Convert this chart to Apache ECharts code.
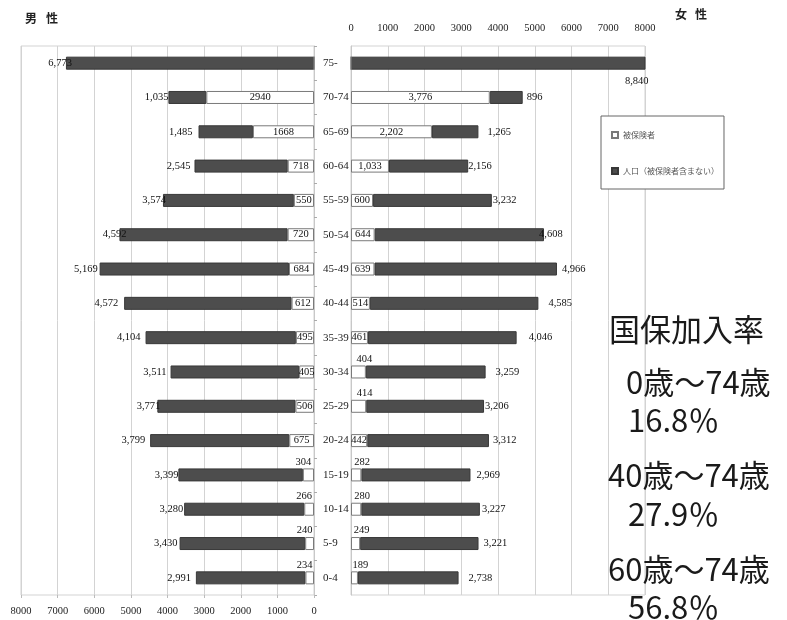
<!DOCTYPE html>
<html>
<head>
<meta charset="utf-8">
<style>
  html, body { margin: 0; padding: 0; background: #fff; }
  #chart { width: 787px; height: 620px; }
</style>
<script src="https://cdn.jsdelivr.net/npm/echarts@6/dist/echarts.min.js"></script>
</head>
<body>
<div id="chart"></div>
<script>
// Age groups, oldest at the top
const categories = ['75-', '70-74', '65-69', '60-64', '55-59', '50-54', '45-49', '40-44',
                    '35-39', '30-34', '25-29', '20-24', '15-19', '10-14', '5-9', '0-4'];

// 男性: 被保険者 / 人口（被保険者含まない）
const maleInsured = [0, 2940, 1668, 718, 550, 720, 684, 612, 495, 405, 506, 675, 304, 266, 240, 234];
const maleOther   = [6773, 1035, 1485, 2545, 3574, 4592, 5169, 4572, 4104, 3511, 3771, 3799, 3399, 3280, 3430, 2991];

// 女性: 被保険者 / 人口（被保険者含まない）
const femaleInsured = [0, 3776, 2202, 1033, 600, 644, 639, 514, 461, 404, 414, 442, 282, 280, 249, 189];
const femaleOther   = [8840, 896, 1265, 2156, 3232, 4608, 4966, 4585, 4046, 3259, 3206, 3312, 2969, 3227, 3221, 2738];

// Side notes
const noteTitle = '国保加入率';
const noteRanges = ['0歳～74歳', '40歳～74歳', '60歳～74歳'];
const noteRates  = ['16.8％', '27.9％', '56.8％'];

const seriesInsured = '被保険者';
const seriesOther = '人口（被保険者含まない）';

// label nudges (px) between bar end and outer value label
const maleGap   = [-6, 0, 6, 4, -3, -7, 2, 6, 5, 4, -3, 5, 0, 1, 2, 5];
const femaleGap = [0, 4, 9, 0, 1, -5, 5, 10, 12, 10, 1, 4, 6, 2, 5, 10];

const numFont = "'Liberation Serif', 'DejaVu Serif', serif";
const jpFont = "'Noto Sans CJK JP', 'Noto Sans', sans-serif";
const gridColor = '#d3d3d3';
const darkFill = '#4d4d4d';
const darkEdge = '#383838';

const fmt = v => v.toLocaleString('en-US');

const baseLabel = { fontFamily: numFont, fontSize: 10.5, color: '#111' };

function insuredItems(values, side) {
  return values.map(v => {
    if (!v) return { value: v, label: { show: false } };
    const above = side === 'male' ? v < 400 : v < 430;
    const text = side === 'male' ? String(v) : fmt(v);
    return {
      value: v,
      label: above
        ? { show: true, position: 'top', distance: 1, offset: [side === 'male' ? -5 : 6, 0], formatter: text }
        : { show: true, position: 'inside', formatter: text }
    };
  });
}

function otherItems(values, side, gaps) {
  return values.map((v, i) => ({
    value: v,
    label: side === 'male'
      ? { show: true, position: 'left', distance: 0, offset: [-gaps[i], 0], formatter: fmt(v) }
      : { show: true, position: 'right', distance: 0, offset: [gaps[i], 0], formatter: fmt(v) }
  }));
}

const femaleOtherData = otherItems(femaleOther, 'female', femaleGap);
// the 75- bar runs past the axis end; its value sits under the clipped end
femaleOtherData[0].label = {
  show: true, position: ['100%', '100%'], align: 'right', verticalAlign: 'top',
  offset: [3, 6], formatter: fmt(femaleOther[0])
};

const chart = echarts.init(document.getElementById('chart'), null, { renderer: 'canvas' });

const valueAxisCommon = {
  type: 'value', min: 0, max: 8000, interval: 1000,
  axisLine: { show: false },
  splitLine: { show: true, lineStyle: { color: gridColor, width: 1 } },
  axisLabel: { fontFamily: numFont, fontSize: 10.5, color: '#222', formatter: v => String(v) }
};

const headFont = "bold 12px " + jpFont;
const noteFont = "31px " + jpFont;
const noteText = (x, y, text) => ({
  type: 'text', x: x, y: y, z: 10,
  style: { text: text, font: noteFont, fill: '#1a1a1a', verticalAlign: 'middle' }
});
const headText = (x, y, text) => ({
  type: 'text', x: x, y: y,
  style: { text: text, font: headFont, fill: '#222', verticalAlign: 'middle' }
});

chart.setOption({
  animation: false,
  backgroundColor: '#fff',
  grid: [
    { left: 21, right: 473, top: 46, bottom: 25, show: true, borderColor: gridColor, borderWidth: 1 },
    { left: 351, right: 142, top: 46, bottom: 25, show: true, borderColor: gridColor, borderWidth: 1 }
  ],
  xAxis: [
    Object.assign({}, valueAxisCommon, {
      gridIndex: 0, inverse: true, position: 'bottom',
      axisTick: { show: true, length: 3, lineStyle: { color: '#bbb' } },
      axisLabel: Object.assign({}, valueAxisCommon.axisLabel, { margin: 11 })
    }),
    Object.assign({}, valueAxisCommon, {
      gridIndex: 1, position: 'top',
      axisTick: { show: false },
      axisLabel: Object.assign({}, valueAxisCommon.axisLabel, { margin: 12 })
    })
  ],
  yAxis: [
    {
      type: 'category', gridIndex: 0, data: categories, inverse: true, position: 'right',
      axisLine: { show: true, lineStyle: { color: '#c8c8c8' } },
      axisTick: { show: true, length: 3, lineStyle: { color: '#aaa' } },
      axisLabel: { show: false },
      splitLine: { show: false }
    },
    {
      type: 'category', gridIndex: 1, data: categories, inverse: true, position: 'left',
      axisLine: { show: true, lineStyle: { color: '#c8c8c8' } },
      axisTick: { show: false },
      axisLabel: { show: true, align: 'left', margin: 28, fontFamily: numFont, fontSize: 11, color: '#222' },
      splitLine: { show: false }
    }
  ],
  legend: {
    orient: 'vertical', left: 601, top: 116,
    itemWidth: 6, itemHeight: 6, itemGap: 28, icon: 'rect',
    padding: [15, 5, 14, 10],
    borderColor: '#666', borderWidth: 1, backgroundColor: '#fff',
    textStyle: { fontFamily: jpFont, fontSize: 8, color: '#555' },
    data: [seriesInsured, seriesOther]
  },
  series: [
    {
      name: seriesInsured, type: 'bar', stack: 'male', xAxisIndex: 0, yAxisIndex: 0,
      barWidth: 13, z: 3,
      itemStyle: { color: '#fff', borderColor: '#7a7a7a', borderWidth: 1 },
      label: baseLabel,
      data: insuredItems(maleInsured, 'male')
    },
    {
      name: seriesOther, type: 'bar', stack: 'male', xAxisIndex: 0, yAxisIndex: 0,
      barWidth: 13, z: 2,
      itemStyle: { color: darkFill, borderColor: darkEdge, borderWidth: 1 },
      label: baseLabel,
      data: otherItems(maleOther, 'male', maleGap)
    },
    {
      name: seriesInsured, type: 'bar', stack: 'female', xAxisIndex: 1, yAxisIndex: 1,
      barWidth: 13, z: 3,
      itemStyle: { color: '#fff', borderColor: '#7a7a7a', borderWidth: 1 },
      label: baseLabel,
      data: insuredItems(femaleInsured, 'female')
    },
    {
      name: seriesOther, type: 'bar', stack: 'female', xAxisIndex: 1, yAxisIndex: 1,
      barWidth: 13, z: 2, clip: true,
      itemStyle: { color: darkFill, borderColor: darkEdge, borderWidth: 1 },
      label: baseLabel,
      data: femaleOtherData
    }
  ],
  graphic: [
    headText(25, 18, '男'), headText(46, 18, '性'),
    headText(675, 14, '女'), headText(695, 14, '性'),
    noteText(609, 329, noteTitle),
    noteText(626, 382, noteRanges[0]),
    noteText(628, 420, noteRates[0]),
    noteText(608, 475, noteRanges[1]),
    noteText(628, 514, noteRates[1]),
    noteText(608, 569, noteRanges[2]),
    noteText(628, 607, noteRates[2])
  ]
});
</script>
</body>
</html>
